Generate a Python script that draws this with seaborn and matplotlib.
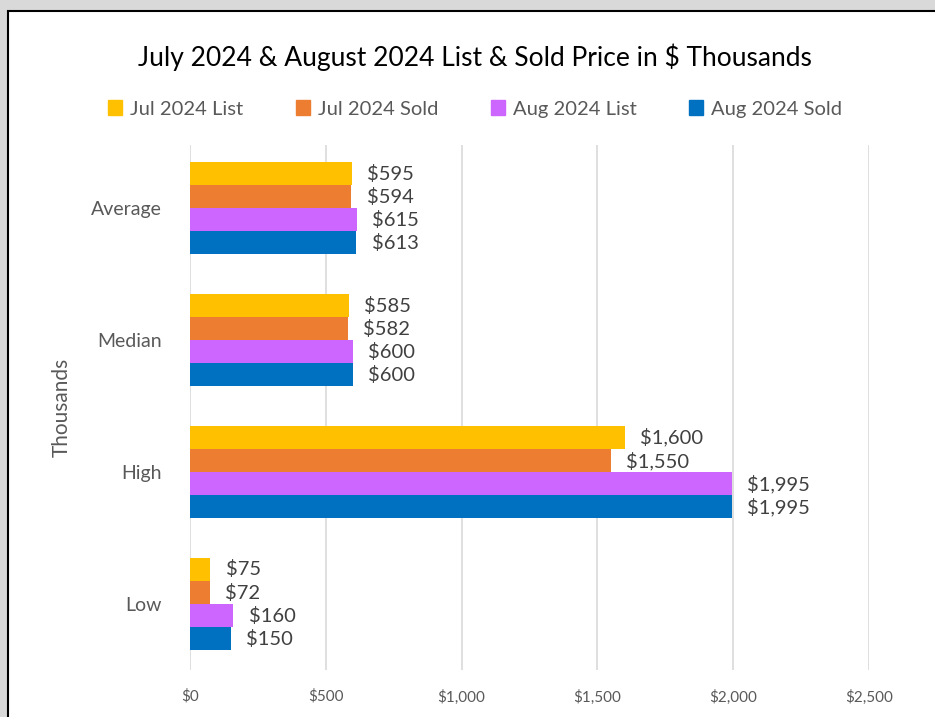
import pandas as pd
import seaborn as sns
import matplotlib.pyplot as plt
from matplotlib.patches import Rectangle

# data (values in $ thousands)
categories = ["Average", "Median", "High", "Low"]
series = ["Jul 2024 List", "Jul 2024 Sold", "Aug 2024 List", "Aug 2024 Sold"]
jul_list = [595, 585, 1600, 75]
jul_sold = [594, 582, 1550, 72]
aug_list = [615, 600, 1995, 160]
aug_sold = [613, 600, 1995, 150]
colors = ["#FFC000", "#ED7D31", "#CC66FF", "#0070C0"]
xticks = [0, 500, 1000, 1500, 2000, 2500]

rows = []
for name, vals in zip(series, [jul_list, jul_sold, aug_list, aug_sold]):
    for cat, v in zip(categories, vals):
        rows.append({"category": cat, "series": name, "value": v})
df = pd.DataFrame(rows)

sns.set_style("white")
plt.rcParams["font.family"] = ["Lato", "DejaVu Sans"]

W, H = 935, 717
fig = plt.figure(figsize=(W / 100, H / 100), dpi=100)
fig.patch.set_facecolor("#d9d9d9")
# white chart panel with black frame (behind the axes)
fig.add_artist(Rectangle((8 / W, -0.05), 1.0, 1 - 11 / H + 0.05, transform=fig.transFigure,
                         facecolor="white", edgecolor="black", linewidth=1.5, zorder=-5))

ax = fig.add_axes([190 / W, 1 - 670 / H, (869 - 190) / W, (670 - 145) / H])
ax.patch.set_alpha(0)
sns.barplot(data=df, y="category", x="value", hue="series", order=categories,
            hue_order=series, palette=colors, orient="h", width=0.7,
            saturation=1, linewidth=0, ax=ax, legend=False)

ax.set_xlim(0, 2500)
ax.set_ylim(3.5, -0.48)
ax.set_xticks(xticks)
ax.set_xticklabels([f"${v:,}" for v in xticks], color="#595959", fontsize=11)
ax.tick_params(axis="x", length=0, pad=14)
ax.tick_params(axis="y", length=0, pad=20, labelsize=14, labelcolor="#595959")
ax.xaxis.grid(True, color="#d9d9d9", linewidth=1.2)
ax.set_axisbelow(True)
for s in ax.spines.values():
    s.set_visible(False)
ax.set_xlabel("")
ax.set_ylabel("Thousands", fontsize=15, color="#595959", labelpad=14)

for cont in ax.containers:
    ax.bar_label(cont, labels=[f"${v.get_width():,.0f}" for v in cont],
                 padding=11, fontsize=14.5, color="#404040")

# title and legend
fig.text(475 / W, 1 - 57 / H, "July 2024 & August 2024 List & Sold Price in $ Thousands",
         ha="center", va="center", fontsize=19, color="black")
handles = [Rectangle((0, 0), 1, 1, color=c) for c in colors]
fig.legend(handles, series, loc="center", bbox_to_anchor=(475 / W, 1 - 109 / H), ncol=4,
           frameon=False, fontsize=14.5, labelcolor="#595959", handlelength=0.7,
           handleheight=0.7, handletextpad=0.4, columnspacing=2.6)

fig.savefig("out.png", dpi=100)
